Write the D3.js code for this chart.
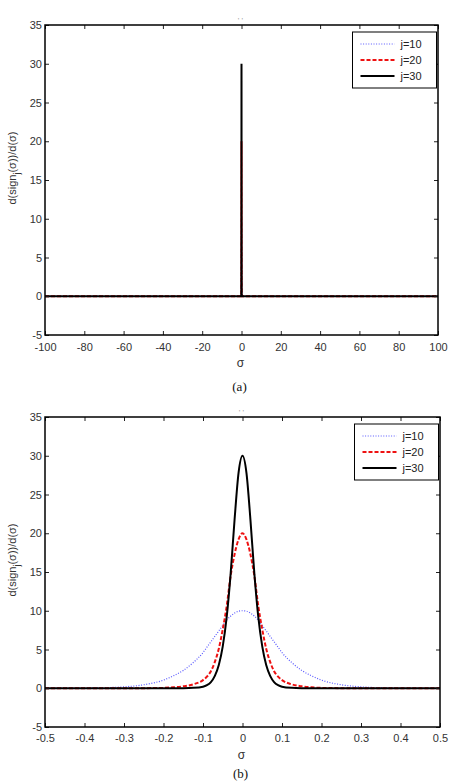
<!DOCTYPE html>
<html>
<head>
<meta charset="utf-8">
<script src="https://cdn.jsdelivr.net/npm/d3@7"></script>
<style>
  body { margin: 0; background: #fff; }
  svg { display: block; font-family: "Liberation Sans", Arial, sans-serif; }
</style>
</head>
<body>
<div id="chart"></div>
<script>
const sigma = [-0.5, -0.4, -0.35, -0.3, -0.25, -0.2, -0.175, -0.15, -0.125, -0.1, -0.09, -0.08, -0.07, -0.06, -0.05, -0.04, -0.03, -0.02, -0.01, 0,
    0.01, 0.02, 0.03, 0.04, 0.05, 0.06, 0.07, 0.08, 0.09, 0.1, 0.125, 0.15, 0.175, 0.2, 0.25, 0.3, 0.35, 0.4, 0.5];
const j10 = [0, 0.03, 0.07, 0.18, 0.45, 1.05, 1.6, 2.3, 3.3, 4.6, 5.3, 6.0, 6.7, 7.4, 8.1, 8.8, 9.3, 9.7, 9.95, 10,
    9.95, 9.7, 9.3, 8.8, 8.1, 7.4, 6.7, 6.0, 5.3, 4.6, 3.3, 2.3, 1.6, 1.05, 0.45, 0.18, 0.07, 0.03, 0];
const j20 = [0, 0, 0, 0, 0.01, 0.05, 0.12, 0.25, 0.5, 1.05, 1.5, 2.2, 3.4, 5.1, 7.6, 10.6, 14.5, 17.3, 19.2, 20,
    19.2, 17.3, 14.5, 10.6, 7.6, 5.1, 3.4, 2.2, 1.5, 1.05, 0.5, 0.25, 0.12, 0.05, 0.01, 0, 0, 0, 0];
const j30 = [0, 0, 0, 0, 0, 0, 0, 0.01, 0.05, 0.2, 0.4, 0.8, 1.6, 3.0, 5.4, 9.2, 14.8, 21.8, 27.8, 30,
    27.8, 21.8, 14.8, 9.2, 5.4, 3.0, 1.6, 0.8, 0.4, 0.2, 0.05, 0.01, 0, 0, 0, 0, 0, 0, 0];
const seriesNames = ['j=10', 'j=20', 'j=30'];

// wide panel extends the same curves out to +-100 (value 0 there)
const wideEnds = [-100, 100];

const xTicksA = [-100, -80, -60, -40, -20, 0, 20, 40, 60, 80, 100];
const xTicksB = [-0.5, -0.4, -0.3, -0.2, -0.1, 0, 0.1, 0.2, 0.3, 0.4, 0.5];
const yTicks = [-5, 0, 5, 10, 15, 20, 25, 30, 35];

const styles = [
    { color: '#5a5aff', width: 1.2, dash: '1,1.6' },
    { color: '#ee1111', width: 2, dash: '4,2' },
    { color: '#000000', width: 2, dash: null }
];

const svg = d3.select('#chart').append('svg')
    .attr('width', 451)
    .attr('height', 783);

function buildSeries(wide) {
    return [j10, j20, j30].map(vals => {
        const pts = sigma.map((s, i) => ({ x: s, y: vals[i] }));
        if (wide) {
            pts.unshift({ x: wideEnds[0], y: 0 });
            pts.push({ x: wideEnds[1], y: 0 });
        }
        return pts;
    });
}

function drawPanel(cfg) {
    const x = d3.scaleLinear().domain(cfg.xDomain).range([cfg.left, cfg.right]);
    const y = d3.scaleLinear().domain([-5, 35]).range([cfg.bottom, cfg.top]);
    const g = svg.append('g');
    const fmt = d => String(+d.toFixed(1));   // plain hyphen minus, like the original

    // curves
    const line = d3.line()
        .x(d => x(d.x))
        .y(d => y(d.y))
        .curve(cfg.wide ? d3.curveLinear : d3.curveMonotoneX);

    buildSeries(cfg.wide).forEach((pts, i) => {
        g.append('path')
            .datum(pts)
            .attr('d', line)
            .attr('fill', 'none')
            .attr('stroke', styles[i].color)
            .attr('stroke-width', styles[i].width)
            .attr('stroke-dasharray', styles[i].dash);
    });

    // axes, ticks pointing inward
    g.append('g')
        .attr('transform', `translate(0,${cfg.bottom})`)
        .call(d3.axisBottom(x).tickValues(cfg.xTicks).tickFormat(fmt).tickSize(-4).tickPadding(cfg.xPad));
    g.append('g')
        .attr('transform', `translate(0,${cfg.top})`)
        .call(d3.axisTop(x).tickValues(cfg.xTicks).tickFormat('').tickSize(-4));
    g.append('g')
        .attr('transform', `translate(${cfg.left},0)`)
        .call(d3.axisLeft(y).tickValues(yTicks).tickFormat(fmt).tickSize(-4).tickPadding(3));
    g.append('g')
        .attr('transform', `translate(${cfg.right},0)`)
        .call(d3.axisRight(y).tickValues(yTicks).tickFormat('').tickSize(-4));

    g.selectAll('.domain').remove();
    g.selectAll('.tick line').attr('stroke', '#222').attr('stroke-width', 1);
    g.selectAll('.tick text').attr('font-size', 11).attr('fill', '#333')
        .attr('font-family', '"Liberation Sans", Arial, sans-serif');

    g.append('rect')
        .attr('x', cfg.left)
        .attr('y', cfg.top)
        .attr('width', cfg.right - cfg.left)
        .attr('height', cfg.bottom - cfg.top)
        .attr('fill', 'none')
        .attr('stroke', '#000')
        .attr('stroke-width', 1.5);

    // clipped title remnant
    g.append('text')
        .attr('x', (cfg.left + cfg.right) / 2 - 1)
        .attr('y', cfg.top - 2)
        .attr('text-anchor', 'middle')
        .attr('font-size', 8)
        .attr('fill', '#999')
        .text("' '");

    // legend
    const lgW = 84, lgH = 56;
    const lgX = cfg.right - 1.5 - lgW, lgY = cfg.top + 7;
    const lg = g.append('g').attr('transform', `translate(${lgX},${lgY})`);
    lg.append('rect')
        .attr('width', lgW)
        .attr('height', lgH)
        .attr('fill', '#fff')
        .attr('stroke', '#000')
        .attr('stroke-width', 1);
    seriesNames.forEach((name, i) => {
        const ly = 12 + i * 16;
        lg.append('line')
            .attr('x1', 8).attr('x2', 42)
            .attr('y1', ly).attr('y2', ly)
            .attr('stroke', styles[i].color)
            .attr('stroke-width', styles[i].width)
            .attr('stroke-dasharray', styles[i].dash);
        lg.append('text')
            .attr('x', 48)
            .attr('y', ly + 4)
            .attr('font-size', 11)
            .attr('fill', '#222')
            .text(name);
    });

    // x label
    g.append('text')
        .attr('x', (cfg.left + cfg.right) / 2 - 1)
        .attr('y', cfg.bottom + 32)
        .attr('text-anchor', 'middle')
        .attr('font-size', 12)
        .attr('fill', '#333')
        .text('σ');

    // y label
    const yl = g.append('text')
        .attr('transform', `translate(16,${(cfg.top + cfg.bottom) / 2 - 12}) rotate(-90)`)
        .attr('text-anchor', 'middle')
        .attr('font-size', 11)
        .attr('fill', '#333');
    yl.append('tspan').text('d(sign');
    yl.append('tspan').attr('dy', 4).attr('font-size', 9).text('j');
    yl.append('tspan').attr('dy', -4).text('(σ))/d(σ)');

    // panel caption
    g.append('text')
        .attr('x', (cfg.left + cfg.right) / 2 - 2)
        .attr('y', cfg.bottom + cfg.captionDy)
        .attr('text-anchor', 'middle')
        .attr('font-size', 13)
        .attr('font-family', '"Liberation Serif", "Times New Roman", serif')
        .attr('fill', '#111')
        .text(cfg.caption);
}

drawPanel({
    left: 45, right: 438, top: 25, bottom: 335,
    xDomain: [-100, 100], xTicks: xTicksA, xPad: 8,
    wide: true, caption: '(a)', captionDy: 56
});

drawPanel({
    left: 45, right: 440, top: 417, bottom: 727,
    xDomain: [-0.5, 0.5], xTicks: xTicksB, xPad: 7,
    wide: false, caption: '(b)', captionDy: 51
});
</script>
</body>
</html>
